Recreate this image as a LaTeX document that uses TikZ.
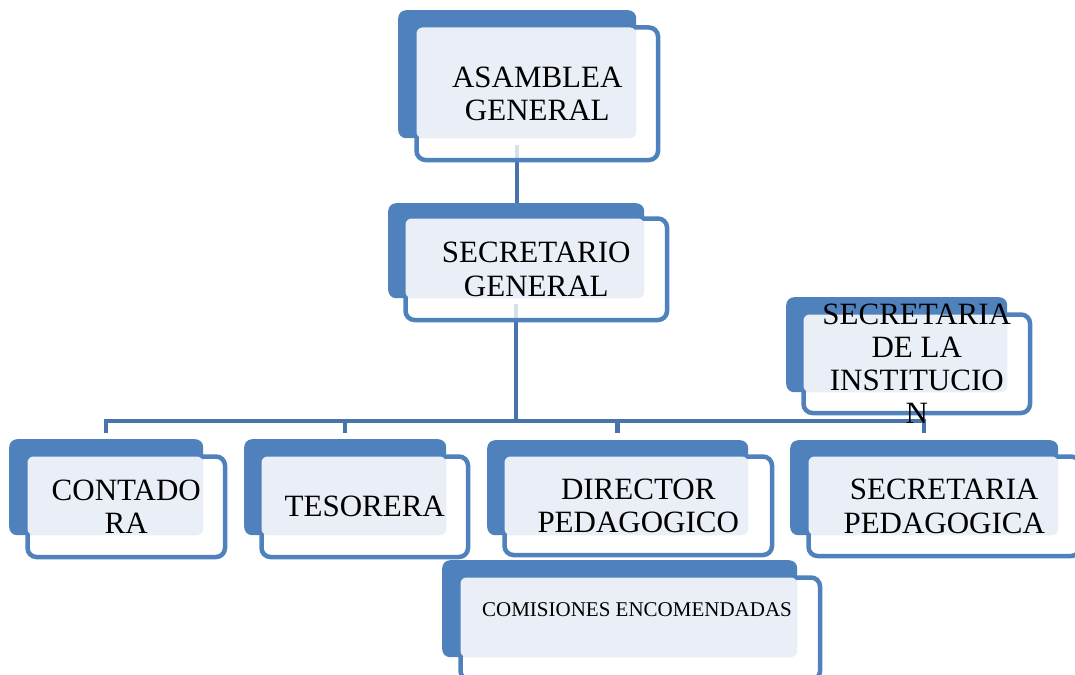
\documentclass[tikz,border=0pt]{standalone}
\usepackage{fontspec}
\setmainfont{Liberation Serif}
\usetikzlibrary{calc}
\definecolor{boxblue}{RGB}{79,129,189}
\definecolor{connblue}{RGB}{72,116,172}
\definecolor{lightfill}{RGB}{234,239,247}
\tikzset{
  backbox/.style={fill=boxblue, draw=none, rounded corners=8pt, inner sep=0pt, anchor=north west},
  frontbox/.style={draw=boxblue, line width=4.5pt, fill=white, fill opacity=0.78, rounded corners=9pt, inner sep=0pt, anchor=north west},
  conn/.style={draw=connblue, line width=4.5pt},
  lbl/.style={align=center, inner sep=0pt, font=\fontsize{31}{33.3}\selectfont},
  smalllbl/.style={align=center, inner sep=0pt, font=\fontsize{21}{24}\selectfont}
}
% name, back x1 y1 x2 y2, front x1 y1 x2 y2
\newcommand\orgbox[9]{%
  \node[backbox, minimum width={#4-#2}, minimum height={#5-#3}] (#1B) at (#2,#3) {};
  \node[frontbox, minimum width={#8-#6-4.5}, minimum height={#9-#7-4.5}] (#1) at ({#6+2.25},{#7+2.25}) {};
  \fill[lightfill, rounded corners=6pt] ({#6+4.5},{#7+4.5}) rectangle (#4,#5);
}
\begin{document}
\begin{tikzpicture}[x=1pt,y=-1pt]
\useasboundingbox (0,0) rectangle (1075,674);
% placeholders for connector geometry (back boxes are drawn later over the line ends)
\coordinate (agS) at (517,138);
\coordinate (sgN) at (516,203);
\coordinate (sgS) at (516,298);
\coordinate (bus) at (516,421);
% connectors
\draw[conn] ($(agS)+(0,7)$) -- (agS |- sgN);
\draw[conn] ($(sgS)+(0,6)$) -- (sgS |- bus);
\coordinate (cN) at (106,439);
\coordinate (tN) at (345,439);
\coordinate (dN) at (617.5,439);
\coordinate (pN) at (924,439);
\draw[conn] ($(cN)+(0,-6)$) -- (cN |- bus) -- (pN |- bus) -- ($(pN)+(0,-6)$);
\draw[conn] (tN |- bus) -- ($(tN)+(0,-6)$);
\draw[conn] (dN |- bus) -- ($(dN)+(0,-6)$);
% boxes
\orgbox{ag}{398}{10}{636}{138}{412}{23}{658}{160}
\orgbox{sg}{388}{203}{644}{298}{401}{214}{667}{320}
\orgbox{si}{786}{297}{1007}{392}{799}{310}{1030}{413}
\orgbox{c}{9}{439}{203}{535}{23}{452}{225}{557}
\orgbox{t}{244}{439}{446}{535}{257}{452}{468}{557}
\orgbox{d}{487}{440}{748}{535}{500}{452}{772}{555}
\orgbox{p}{790}{440}{1058}{535}{804}{452}{1080}{556}
\orgbox{m}{442}{560}{797}{657}{456}{573}{820}{680}
% texts
\node[lbl] (agT) at (ag.center) {ASAMBLEA\\GENERAL};
\node[lbl] (sgT) at (sg.center) {SECRETARIO\\GENERAL};
\node[lbl] (siT) at (si.center) {SECRETARIA\\DE LA\\INSTITUCIO\\N};
\node[lbl] (cT) at (c.center) {CONTADO\\RA};
\node[lbl] (tT) at (t.center) {TESORERA};
\node[lbl] (dT) at (d.center) {DIRECTOR\\PEDAGOGICO};
\node[lbl] (pT) at (p.center) {SECRETARIA\\PEDAGOGICA};
\node[smalllbl] (mT) at (637,609.5) {COMISIONES ENCOMENDADAS};
\end{tikzpicture}
\end{document}
